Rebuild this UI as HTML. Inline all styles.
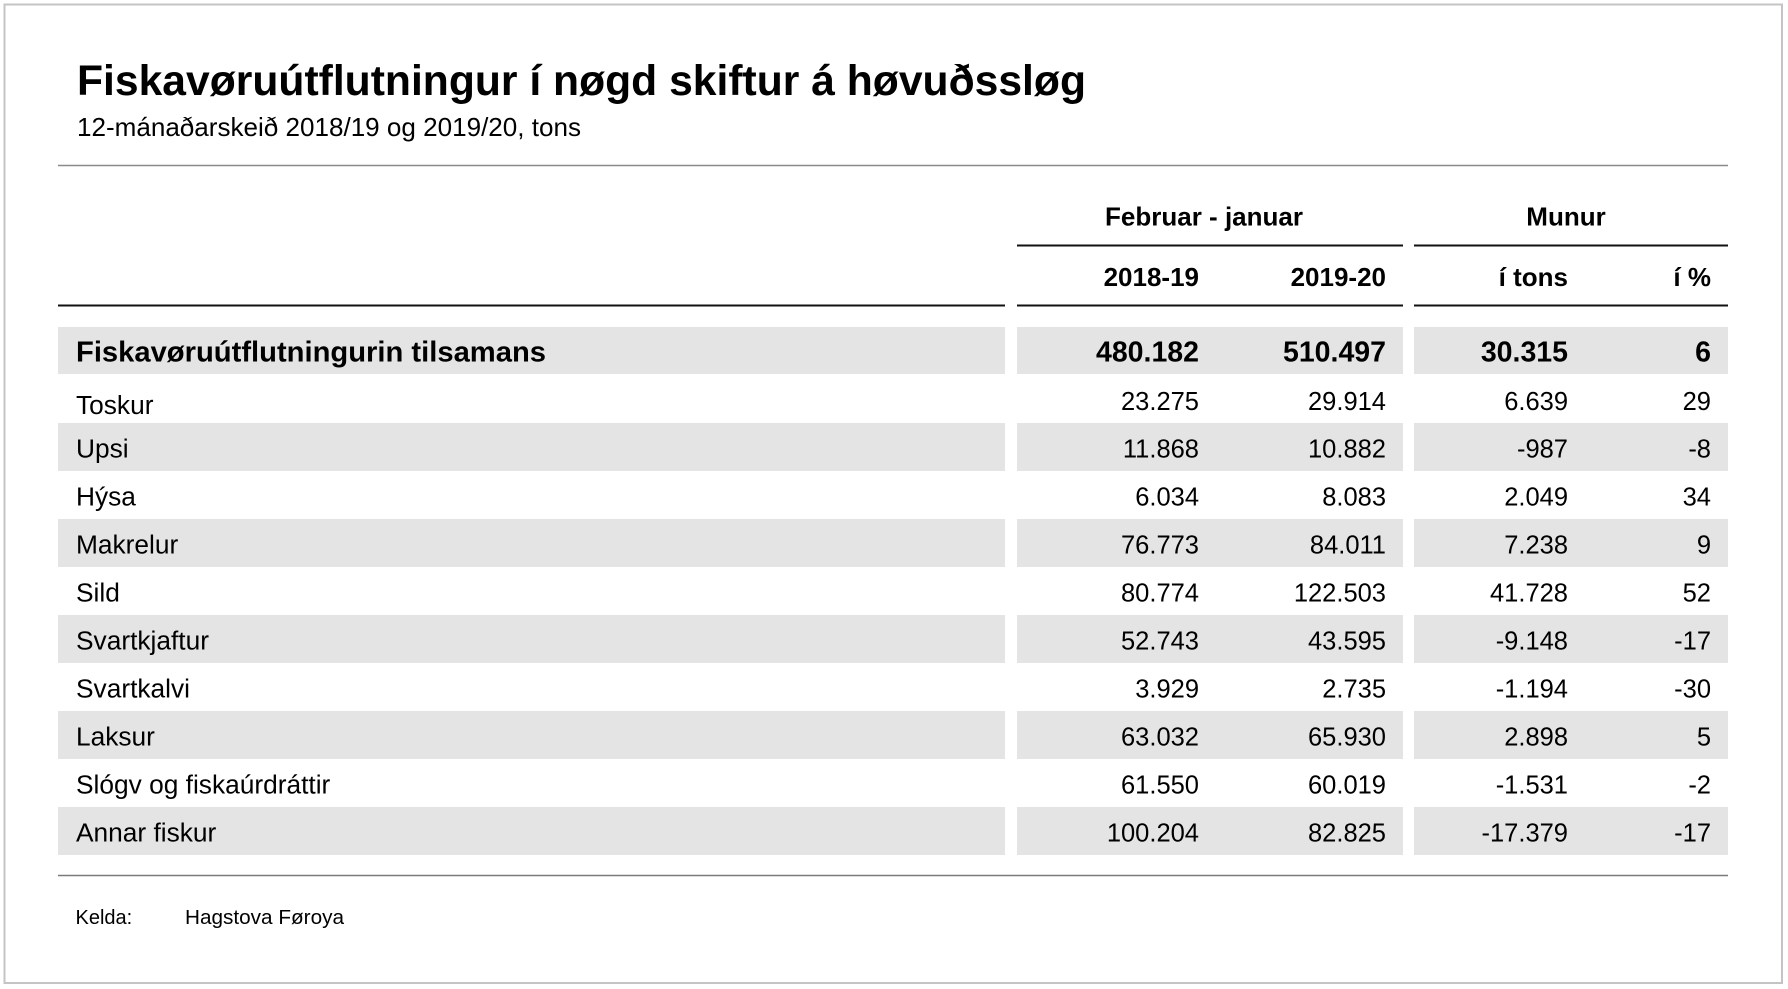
<!DOCTYPE html>
<html>
<head>
<meta charset="utf-8">
<style>
  html, body { margin:0; padding:0; background:#ffffff; }
  svg { display:block; }
  text { font-family: "Liberation Sans", Arial, sans-serif; fill:#000; }
  .r { font-size:25.5px; text-anchor:end; }
  .l { font-size:26.3px; }
  .b { font-weight:bold; }
</style>
</head>
<body>
<svg width="1788" height="989" viewBox="0 0 1788 989" xmlns="http://www.w3.org/2000/svg">
  <rect x="0" y="0" width="1788" height="989" fill="#ffffff"/>
  <rect x="4.5" y="4.5" width="1777.5" height="978.5" fill="none" stroke="#c4c4c4" stroke-width="2"/>

  <!-- Title -->
  <text x="77" y="95" font-size="42.5" font-weight="bold" textLength="1009" lengthAdjust="spacingAndGlyphs">Fiskavøruútflutningur í nøgd skiftur á høvuðssløg</text>
  <text x="77" y="136" font-size="26" textLength="504" lengthAdjust="spacingAndGlyphs">12-mánaðarskeið 2018/19 og 2019/20, tons</text>

  <!-- top gray rule -->
  <line x1="58" y1="165.5" x2="1728" y2="165.5" stroke="#8a8a8a" stroke-width="1.5"/>

  <!-- header group -->
  <text x="1204" y="225.5" font-size="26" font-weight="bold" text-anchor="middle">Februar - januar</text>
  <text x="1566" y="225.5" font-size="26" font-weight="bold" text-anchor="middle">Munur</text>
  <line x1="1017" y1="245.5" x2="1403" y2="245.5" stroke="#111" stroke-width="2"/>
  <line x1="1414" y1="245.5" x2="1728" y2="245.5" stroke="#111" stroke-width="2"/>

  <text x="1199" y="286" font-size="26" font-weight="bold" text-anchor="end">2018-19</text>
  <text x="1386" y="286" font-size="26" font-weight="bold" text-anchor="end">2019-20</text>
  <text x="1568" y="286" font-size="26" font-weight="bold" text-anchor="end">í tons</text>
  <text x="1711" y="286" font-size="26" font-weight="bold" text-anchor="end">í %</text>

  <line x1="58" y1="305.5" x2="1005" y2="305.5" stroke="#111" stroke-width="2"/>
  <line x1="1017" y1="305.5" x2="1403" y2="305.5" stroke="#111" stroke-width="2"/>
  <line x1="1414" y1="305.5" x2="1728" y2="305.5" stroke="#111" stroke-width="2"/>

  <!-- gray row bands -->
  <g fill="#e4e4e4">
    <rect x="58" y="327" width="947" height="47"/>
    <rect x="1017" y="327" width="386" height="47"/>
    <rect x="1414" y="327" width="314" height="47"/>

    <rect x="58" y="423" width="947" height="48"/>
    <rect x="1017" y="423" width="386" height="48"/>
    <rect x="1414" y="423" width="314" height="48"/>

    <rect x="58" y="519" width="947" height="48"/>
    <rect x="1017" y="519" width="386" height="48"/>
    <rect x="1414" y="519" width="314" height="48"/>

    <rect x="58" y="615" width="947" height="48"/>
    <rect x="1017" y="615" width="386" height="48"/>
    <rect x="1414" y="615" width="314" height="48"/>

    <rect x="58" y="711" width="947" height="48"/>
    <rect x="1017" y="711" width="386" height="48"/>
    <rect x="1414" y="711" width="314" height="48"/>

    <rect x="58" y="807" width="947" height="48"/>
    <rect x="1017" y="807" width="386" height="48"/>
    <rect x="1414" y="807" width="314" height="48"/>
  </g>

  <!-- Total row -->
  <text x="76" y="361.5" font-size="28.5" font-weight="bold" textLength="470" lengthAdjust="spacingAndGlyphs">Fiskavøruútflutningurin tilsamans</text>
  <text x="1199" y="361.5" font-size="28.5" font-weight="bold" text-anchor="end">480.182</text>
  <text x="1386" y="361.5" font-size="28.5" font-weight="bold" text-anchor="end">510.497</text>
  <text x="1568" y="361.5" font-size="28.5" font-weight="bold" text-anchor="end">30.315</text>
  <text x="1711" y="361.5" font-size="28.5" font-weight="bold" text-anchor="end">6</text>

  <!-- Toskur -->
  <text class="l" x="76" y="414">Toskur</text>
  <text class="r" x="1199" y="410">23.275</text>
  <text class="r" x="1386" y="410">29.914</text>
  <text class="r" x="1568" y="410">6.639</text>
  <text class="r" x="1711" y="410">29</text>

  <!-- Upsi -->
  <text class="l" x="76" y="457.5">Upsi</text>
  <text class="r" x="1199" y="457.5">11.868</text>
  <text class="r" x="1386" y="457.5">10.882</text>
  <text class="r" x="1568" y="457.5">-987</text>
  <text class="r" x="1711" y="457.5">-8</text>

  <!-- Hýsa -->
  <text class="l" x="76" y="505.5">Hýsa</text>
  <text class="r" x="1199" y="505.5">6.034</text>
  <text class="r" x="1386" y="505.5">8.083</text>
  <text class="r" x="1568" y="505.5">2.049</text>
  <text class="r" x="1711" y="505.5">34</text>

  <!-- Makrelur -->
  <text class="l" x="76" y="553.5">Makrelur</text>
  <text class="r" x="1199" y="553.5">76.773</text>
  <text class="r" x="1386" y="553.5">84.011</text>
  <text class="r" x="1568" y="553.5">7.238</text>
  <text class="r" x="1711" y="553.5">9</text>

  <!-- Sild -->
  <text class="l" x="76" y="601.5">Sild</text>
  <text class="r" x="1199" y="601.5">80.774</text>
  <text class="r" x="1386" y="601.5">122.503</text>
  <text class="r" x="1568" y="601.5">41.728</text>
  <text class="r" x="1711" y="601.5">52</text>

  <!-- Svartkjaftur -->
  <text class="l" x="76" y="649.5">Svartkjaftur</text>
  <text class="r" x="1199" y="649.5">52.743</text>
  <text class="r" x="1386" y="649.5">43.595</text>
  <text class="r" x="1568" y="649.5">-9.148</text>
  <text class="r" x="1711" y="649.5">-17</text>

  <!-- Svartkalvi -->
  <text class="l" x="76" y="697.5">Svartkalvi</text>
  <text class="r" x="1199" y="697.5">3.929</text>
  <text class="r" x="1386" y="697.5">2.735</text>
  <text class="r" x="1568" y="697.5">-1.194</text>
  <text class="r" x="1711" y="697.5">-30</text>

  <!-- Laksur -->
  <text class="l" x="76" y="745.5">Laksur</text>
  <text class="r" x="1199" y="745.5">63.032</text>
  <text class="r" x="1386" y="745.5">65.930</text>
  <text class="r" x="1568" y="745.5">2.898</text>
  <text class="r" x="1711" y="745.5">5</text>

  <!-- Slógv -->
  <text class="l" x="76" y="793.5">Slógv og fiskaúrdráttir</text>
  <text class="r" x="1199" y="793.5">61.550</text>
  <text class="r" x="1386" y="793.5">60.019</text>
  <text class="r" x="1568" y="793.5">-1.531</text>
  <text class="r" x="1711" y="793.5">-2</text>

  <!-- Annar fiskur -->
  <text class="l" x="76" y="841.5">Annar fiskur</text>
  <text class="r" x="1199" y="841.5">100.204</text>
  <text class="r" x="1386" y="841.5">82.825</text>
  <text class="r" x="1568" y="841.5">-17.379</text>
  <text class="r" x="1711" y="841.5">-17</text>

  <!-- bottom rule -->
  <line x1="58" y1="875.5" x2="1728" y2="875.5" stroke="#7a7a7a" stroke-width="1.5"/>

  <!-- footer -->
  <text x="75.5" y="924" font-size="20">Kelda:</text>
  <text x="185" y="924" font-size="20.5" textLength="159" lengthAdjust="spacingAndGlyphs">Hagstova Føroya</text>
</svg>
</body>
</html>
